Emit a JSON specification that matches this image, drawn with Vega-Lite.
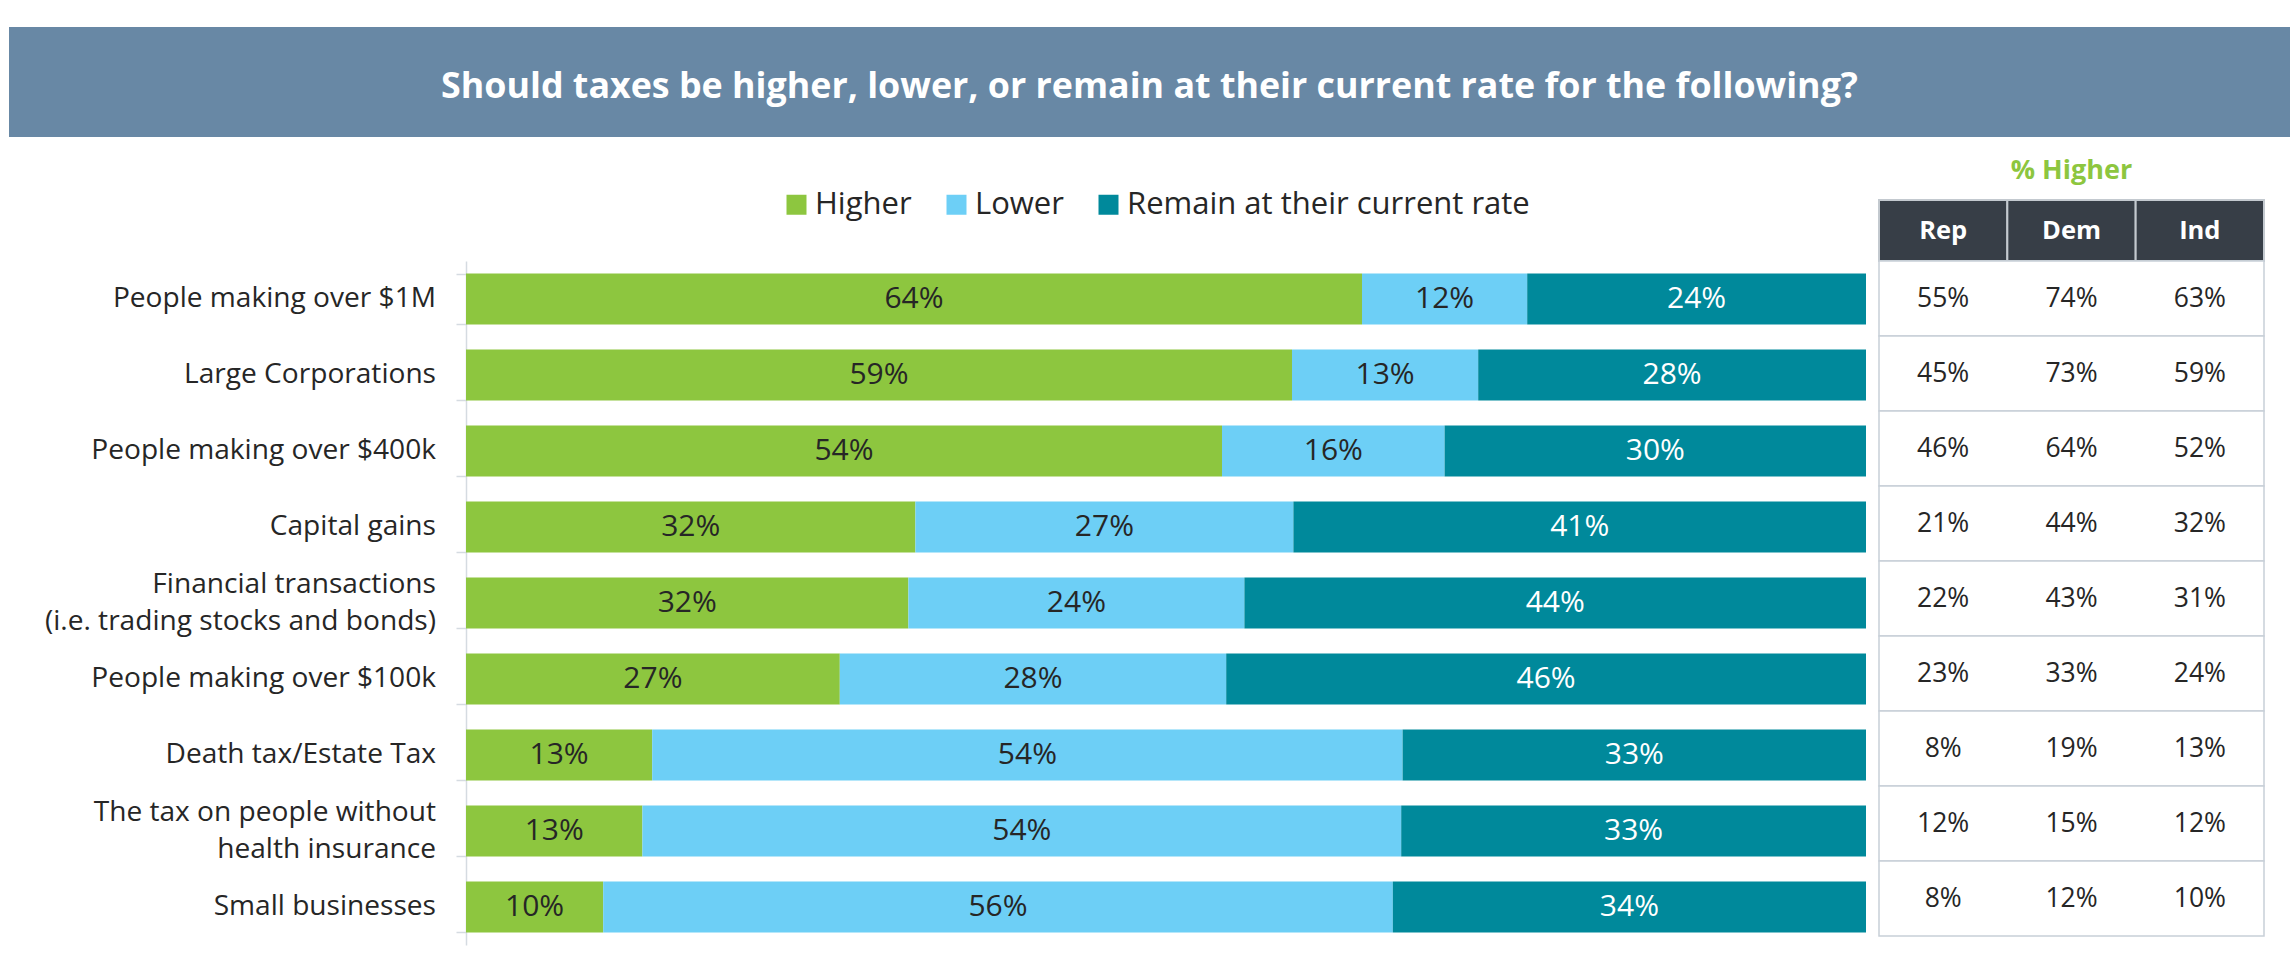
{
  "$schema": "https://vega.github.io/schema/vega-lite/v6.json",
  "padding": {"left": 9, "top": 27, "right": 0, "bottom": 8},
  "autosize": {"type": "pad"},
  "background": "white",
  "config": {"view": {"stroke": null}, "font": "Open Sans"},
  "datasets": {
    "bars": [
      {"category": "People making over $1M", "response": "Higher", "value": 0.640},
      {"category": "People making over $1M", "response": "Lower", "value": 0.118},
      {"category": "People making over $1M", "response": "Remain at their current rate", "value": 0.242},
      {"category": "Large Corporations", "response": "Higher", "value": 0.590},
      {"category": "Large Corporations", "response": "Lower", "value": 0.133},
      {"category": "Large Corporations", "response": "Remain at their current rate", "value": 0.277},
      {"category": "People making over $400k", "response": "Higher", "value": 0.540},
      {"category": "People making over $400k", "response": "Lower", "value": 0.159},
      {"category": "People making over $400k", "response": "Remain at their current rate", "value": 0.301},
      {"category": "Capital gains", "response": "Higher", "value": 0.321},
      {"category": "Capital gains", "response": "Lower", "value": 0.270},
      {"category": "Capital gains", "response": "Remain at their current rate", "value": 0.409},
      {"category": "Financial transactions\n(i.e. trading stocks and bonds)", "response": "Higher", "value": 0.316},
      {"category": "Financial transactions\n(i.e. trading stocks and bonds)", "response": "Lower", "value": 0.240},
      {"category": "Financial transactions\n(i.e. trading stocks and bonds)", "response": "Remain at their current rate", "value": 0.444},
      {"category": "People making over $100k", "response": "Higher", "value": 0.267},
      {"category": "People making over $100k", "response": "Lower", "value": 0.276},
      {"category": "People making over $100k", "response": "Remain at their current rate", "value": 0.457},
      {"category": "Death tax/Estate Tax", "response": "Higher", "value": 0.133},
      {"category": "Death tax/Estate Tax", "response": "Lower", "value": 0.536},
      {"category": "Death tax/Estate Tax", "response": "Remain at their current rate", "value": 0.331},
      {"category": "The tax on people without\nhealth insurance", "response": "Higher", "value": 0.126},
      {"category": "The tax on people without\nhealth insurance", "response": "Lower", "value": 0.542},
      {"category": "The tax on people without\nhealth insurance", "response": "Remain at their current rate", "value": 0.332},
      {"category": "Small businesses", "response": "Higher", "value": 0.098},
      {"category": "Small businesses", "response": "Lower", "value": 0.564},
      {"category": "Small businesses", "response": "Remain at their current rate", "value": 0.338}
    ],
    "party": [
      {"category": "People making over $1M", "party": "Rep", "value": 0.55},
      {"category": "People making over $1M", "party": "Dem", "value": 0.74},
      {"category": "People making over $1M", "party": "Ind", "value": 0.63},
      {"category": "Large Corporations", "party": "Rep", "value": 0.45},
      {"category": "Large Corporations", "party": "Dem", "value": 0.73},
      {"category": "Large Corporations", "party": "Ind", "value": 0.59},
      {"category": "People making over $400k", "party": "Rep", "value": 0.46},
      {"category": "People making over $400k", "party": "Dem", "value": 0.64},
      {"category": "People making over $400k", "party": "Ind", "value": 0.52},
      {"category": "Capital gains", "party": "Rep", "value": 0.21},
      {"category": "Capital gains", "party": "Dem", "value": 0.44},
      {"category": "Capital gains", "party": "Ind", "value": 0.32},
      {"category": "Financial transactions\n(i.e. trading stocks and bonds)", "party": "Rep", "value": 0.22},
      {"category": "Financial transactions\n(i.e. trading stocks and bonds)", "party": "Dem", "value": 0.43},
      {"category": "Financial transactions\n(i.e. trading stocks and bonds)", "party": "Ind", "value": 0.31},
      {"category": "People making over $100k", "party": "Rep", "value": 0.23},
      {"category": "People making over $100k", "party": "Dem", "value": 0.33},
      {"category": "People making over $100k", "party": "Ind", "value": 0.24},
      {"category": "Death tax/Estate Tax", "party": "Rep", "value": 0.08},
      {"category": "Death tax/Estate Tax", "party": "Dem", "value": 0.19},
      {"category": "Death tax/Estate Tax", "party": "Ind", "value": 0.13},
      {"category": "The tax on people without\nhealth insurance", "party": "Rep", "value": 0.12},
      {"category": "The tax on people without\nhealth insurance", "party": "Dem", "value": 0.15},
      {"category": "The tax on people without\nhealth insurance", "party": "Ind", "value": 0.12},
      {"category": "Small businesses", "party": "Rep", "value": 0.08},
      {"category": "Small businesses", "party": "Dem", "value": 0.12},
      {"category": "Small businesses", "party": "Ind", "value": 0.10}
    ]
  },
  "bounds": "flush",
  "spacing": 63,
  "vconcat": [
    {
      "width": 2281,
      "height": 110,
      "view": {"fill": "#6888A5", "stroke": null},
      "data": {"values": [{"title": "Should taxes be higher, lower, or remain at their current rate for the following?"}]},
      "mark": {"type": "text", "font": "Open Sans", "fontWeight": "bold", "fontSize": 35.8, "color": "white", "align": "center", "baseline": "middle", "dy": 5},
      "encoding": {"text": {"field": "title"}}
    },
    {
      "columns": 3,
      "spacing": 0,
      "bounds": "flush",
      "align": "each",
      "concat": [
        {
          "width": 457, "height": 61,
          "data": {"values": [{}]},
          "mark": {"type": "text"},
          "encoding": {"text": {"value": ""}}
        },
        {
          "width": 1413, "height": 61,
          "data": {"values": [{}]},
          "mark": {"type": "text"},
          "encoding": {"text": {"value": ""}}
        },
        {
          "width": 385, "height": 61,
          "layer": [
            {
              "data": {"values": [{"party": "Rep"}, {"party": "Dem"}, {"party": "Ind"}]},
              "mark": {"type": "rect", "fill": "#373E47", "stroke": "#C3C9CF", "strokeWidth": 2},
              "encoding": {
                "x": {"field": "party", "type": "nominal", "sort": ["Rep", "Dem", "Ind"], "axis": null, "scale": {"paddingInner": 0, "paddingOuter": 0}}
              }
            },
            {
              "data": {"values": [{"party": "Rep"}, {"party": "Dem"}, {"party": "Ind"}]},
              "mark": {"type": "text", "color": "white", "font": "Open Sans", "fontWeight": "bold", "fontSize": 25.5, "baseline": "middle", "align": "center"},
              "encoding": {
                "x": {"field": "party", "type": "nominal", "sort": ["Rep", "Dem", "Ind"], "axis": null, "scale": {"paddingInner": 0, "paddingOuter": 0}},
                "text": {"field": "party"}
              }
            },
            {
              "data": {"values": [{"heading": "% Higher"}]},
              "mark": {"type": "text", "color": "#8DC63F", "font": "Open Sans", "fontWeight": "bold", "fontSize": 27, "baseline": "middle", "align": "center", "dy": -60},
              "encoding": {"text": {"field": "heading"}}
            }
          ]
        },
        {
          "width": 457, "height": 10,
          "data": {"values": [{}]},
          "mark": {"type": "text"},
          "encoding": {"text": {"value": ""}}
        },
        {
          "width": 1400,
          "height": 684,
          "data": {"name": "bars"},
          "transform": [
            {"stack": "value", "groupby": ["category"], "sort": [{"field": "response", "order": "ascending"}], "as": ["v0", "v1"]}
          ],
          "encoding": {
            "y": {
              "field": "category", "type": "nominal",
              "sort": ["People making over $1M", "Large Corporations", "People making over $400k", "Capital gains", "Financial transactions\n(i.e. trading stocks and bonds)", "People making over $100k", "Death tax/Estate Tax", "The tax on people without\nhealth insurance", "Small businesses"],
              "scale": {"paddingInner": 0.33, "paddingOuter": 0.165},
              "axis": {
                "title": null, "labels": false,
                "tickBand": "extent", "tickSize": 10, "tickColor": "#D5DBE1", "tickWidth": 1.5,
                "domainColor": "#D5DBE1", "domainWidth": 1.5
              }
            }
          },
          "layer": [
            {
              "mark": {"type": "bar"},
              "encoding": {
                "x": {"field": "v0", "type": "quantitative", "scale": {"domain": [0, 1], "nice": false}, "axis": null},
                "x2": {"field": "v1"},
                "color": {
                  "field": "response", "type": "nominal",
                  "scale": {"domain": ["Higher", "Lower", "Remain at their current rate"], "range": ["#8DC63F", "#6DCFF6", "#00899B"]},
                  "legend": {
                    "orient": "none", "legendX": 772, "legendY": 162, "direction": "horizontal", "title": null,
                    "symbolType": "square", "symbolSize": 400, "symbolStrokeWidth": 0, "symbolOpacity": 1,
                    "labelFont": "Open Sans", "labelFontSize": 31, "labelColor": "#262626", "labelOffset": 3,
                    "columnPadding": 29, "labelLimit": 600, "padding": 0
                  }
                }
              }
            },
            {
              "transform": [
                {"fold": ["v0", "v1"], "as": ["edge", "pos"]},
                {"aggregate": [{"op": "mean", "field": "pos", "as": "mid"}], "groupby": ["category", "response", "value"]}
              ],
              "mark": {"type": "text", "font": "Open Sans", "fontSize": 30, "baseline": "middle", "align": "center"},
              "encoding": {
                "x": {"field": "mid", "type": "quantitative"},
                "text": {"field": "value", "type": "quantitative", "format": ".0%"},
                "color": {"condition": {"test": "datum.response === 'Remain at their current rate'", "value": "white"}, "value": "#262626"}
              }
            },
            {
              "transform": [
                {"filter": "datum.response === 'Higher' && indexof(datum.category, '\\n') < 0"}
              ],
              "mark": {"type": "text", "font": "Open Sans", "fontSize": 28.1, "color": "#262626", "baseline": "middle", "align": "right", "dx": -30},
              "encoding": {
                "x": {"datum": 0, "type": "quantitative"},
                "text": {"field": "category"}
              }
            },
            {
              "transform": [
                {"filter": "datum.response === 'Higher' && indexof(datum.category, '\\n') >= 0"}
              ],
              "mark": {"type": "text", "font": "Open Sans", "fontSize": 28.1, "color": "#262626", "baseline": "middle", "align": "right", "dx": -30, "dy": -18.5, "lineBreak": "\n", "lineHeight": 37},
              "encoding": {
                "x": {"datum": 0, "type": "quantitative"},
                "text": {"field": "category"}
              }
            }
          ]
        },
        {
          "width": 385,
          "height": 675,
          "data": {"name": "party"},
          "encoding": {
            "y": {
              "field": "category", "type": "nominal",
              "sort": ["People making over $1M", "Large Corporations", "People making over $400k", "Capital gains", "Financial transactions\n(i.e. trading stocks and bonds)", "People making over $100k", "Death tax/Estate Tax", "The tax on people without\nhealth insurance", "Small businesses"],
              "scale": {"paddingInner": 0, "paddingOuter": 0},
              "axis": null
            }
          },
          "layer": [
            {
              "transform": [{"filter": "datum.party === 'Rep'"}],
              "mark": {"type": "rect", "fill": "white", "stroke": "#C8D0D8", "strokeWidth": 1.5}
            },
            {
              "mark": {"type": "text", "font": "Open Sans", "fontSize": 26.5, "color": "#262626", "baseline": "middle", "align": "center"},
              "encoding": {
                "x": {"field": "party", "type": "nominal", "sort": ["Rep", "Dem", "Ind"], "axis": null, "scale": {"paddingInner": 0, "paddingOuter": 0}},
                "text": {"field": "value", "type": "quantitative", "format": ".0%"}
              }
            }
          ]
        }
      ]
    }
  ]
}
